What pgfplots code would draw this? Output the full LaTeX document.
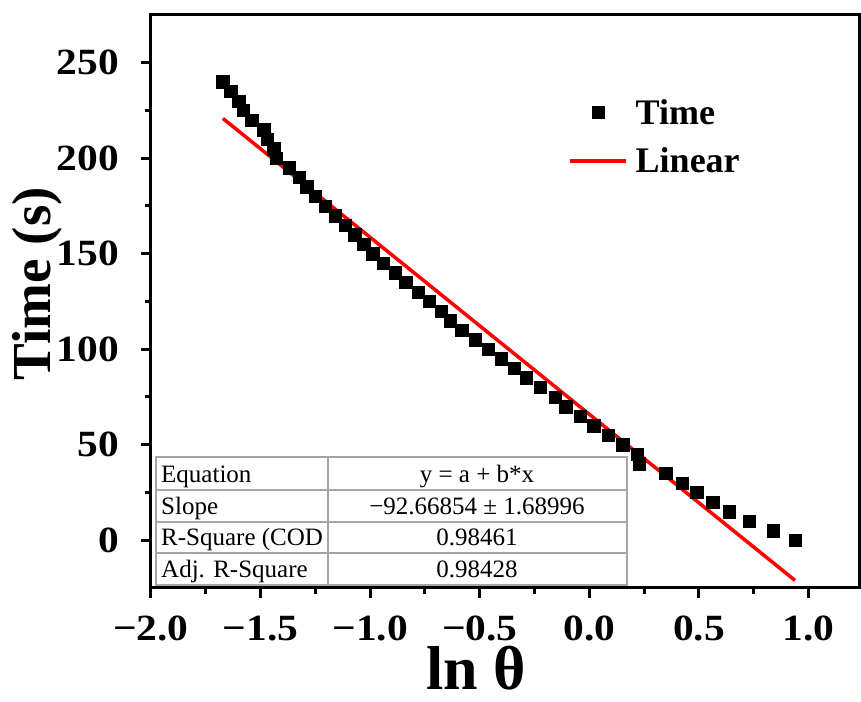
\documentclass[border=0pt]{standalone}
\usepackage{fontspec}
\setmainfont{Liberation Serif}
\newfontfamily\tickfont{Liberation Serif}[FakeStretch=1.12]
\usepackage{pgfplots}
\pgfplotsset{compat=1.18}
\pgfplotsset{
    marklegend/.style={legend image code/.code={\draw[mark repeat=2,mark phase=2,##1] plot coordinates {(0pt,0pt) (28pt,0pt) (56pt,0pt)};}},
    linelegend/.style={legend image code/.code={\draw[##1] (0pt,0pt) -- (56pt,0pt);}},
}

\begin{document}
\begin{tikzpicture}
\begin{axis}[
    width=708pt, height=573pt, scale only axis,
    xmin=-2, xmax=1.23, ymin=-25, ymax=275,
    xtick={-2,-1.5,-1,-0.5,0,0.5,1},
    xticklabels={−2.0,−1.5,−1.0,−0.5,0.0,0.5,1.0},
    ytick={0,50,100,150,200,250},
    yticklabels={0,50,100,150,200,250},
    minor x tick num=1, minor y tick num=1,
    tick align=outside, tick pos=left,
    axis line style={line width=3pt},
    major tick length=10pt, minor tick length=6pt,
    tick style={black, line width=3pt},
    ticklabel style={font=\tickfont\fontsize{37}{37}\selectfont\bfseries, inner sep=0pt},
    xticklabel style={yshift=-18pt},
    yticklabel style={xshift=-22pt},
    xlabel={ln θ}, ylabel={Time (s)},
    xlabel style={at={(axis description cs:0.459,-0.178)}, anchor=base, inner sep=0pt,
        font=\fontsize{62}{62}\selectfont\bfseries},
    ylabel style={at={(axis description cs:-0.16,0.531)}, anchor=center,
        font=\fontsize{55}{55}\selectfont\bfseries},
    legend style={draw=none, fill=none, inner sep=0pt,
        at={(axis description cs:0.589,0.857)}, anchor=north west,
        font=\fontsize{36}{36}\selectfont\bfseries, row sep=18pt,
        /tikz/every odd column/.append style={column sep=6pt}},
    legend cell align=left,
]
% measured points
\addplot[only marks, mark=square*, mark size=6.2pt, black, marklegend]
coordinates {
 (-1.672,240) (-1.636,235) (-1.599,230) (-1.580,225) (-1.540,220)
 (-1.485,215) (-1.470,210) (-1.440,205) (-1.430,200) (-1.370,195)
 (-1.325,190) (-1.290,185) (-1.250,180) (-1.206,175) (-1.160,170)
 (-1.115,165) (-1.070,160) (-1.030,155) (-0.988,150) (-0.940,145)
 (-0.887,140) (-0.838,135) (-0.780,130) (-0.730,125) (-0.676,120)
 (-0.635,115) (-0.583,110) (-0.522,105) (-0.462,100) (-0.403,95)
 (-0.344,90) (-0.289,85) (-0.225,80) (-0.157,75) (-0.108,70)
 (-0.043,65) (0.020,60) (0.085,55) (0.152,50) (0.217,45)
 (0.226,40) (0.349,35) (0.424,30) (0.490,25) (0.562,20)
 (0.637,15) (0.728,10) (0.838,5) (0.938,0)
};
\addlegendentry{Time}
% linear fit y = a + b*x
\addplot[red, line width=3.5pt, linelegend]
coordinates {(-1.672,220.84) (0.938,-21.02)};
\addlegendentry{Linear}
\end{axis}

% fit statistics table
\begin{scope}[shift={(current axis.south west)}, every node/.style={inner sep=0pt, font=\fontsize{25}{25}\selectfont}]
\draw[gray!70, line width=1.2pt, fill=white] (5pt,3pt) rectangle (476pt,131pt);
\draw[gray!70, line width=1.2pt] (177pt,3pt) -- (177pt,131pt);
\foreach \y in {35,66,98} \draw[gray!70, line width=1.2pt] (5pt,\y pt) -- (476pt,\y pt);
\node[anchor=base west] at (10pt,105pt) {Equation};
\node[anchor=base west] at (10pt,73pt) {Slope};
\node[anchor=base west] at (10pt,42pt) {R-Square (COD};
\node[anchor=base west] at (10pt,10pt) {Adj. R-Square};
\node[anchor=base] at (326pt,105pt) {y = a + b*x};
\node[anchor=base] at (326pt,73pt) {−92.66854 ± 1.68996};
\node[anchor=base] at (326pt,42pt) {0.98461};
\node[anchor=base] at (326pt,10pt) {0.98428};
\end{scope}

\path ([shift={(-151pt,-114pt)}]current axis.south west) rectangle ([shift={(2pt,15pt)}]current axis.north east);
\end{tikzpicture}
\end{document}
